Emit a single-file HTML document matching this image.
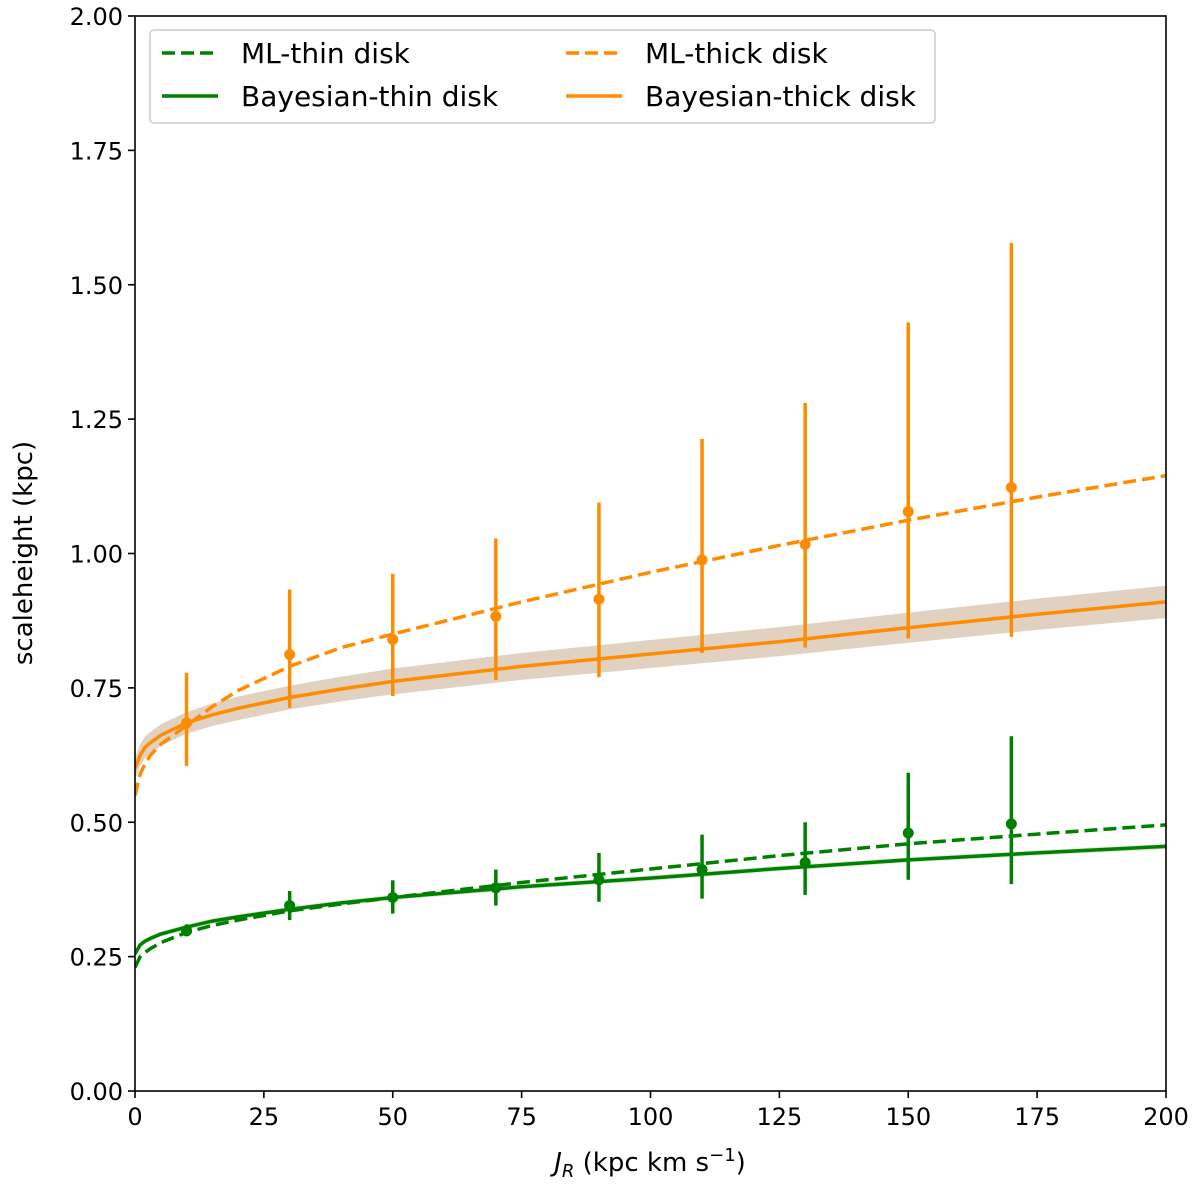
<!DOCTYPE html>
<html><head><meta charset="utf-8"><style>
body{margin:0;background:#fff}
svg text{font-family:"DejaVu Sans","Liberation Sans",sans-serif;fill:#000}
</style></head><body>
<svg id="chart" width="1200" height="1191" viewBox="0 0 1200 1191" xmlns="http://www.w3.org/2000/svg"></svg>
<script>
const curveX=[0,1,2,3,5,10,15,20,30,40,50,75,100,125,150,175,200];
const mlThick=[0.55,0.59,0.61,0.625,0.645,0.68,0.715,0.745,0.79,0.825,0.85,0.91,0.965,1.015,1.062,1.105,1.145];
const bayThick=[0.60,0.625,0.64,0.648,0.662,0.685,0.70,0.712,0.732,0.748,0.762,0.79,0.813,0.836,0.862,0.887,0.91];
const bayThickBand=[0.02,0.02,0.02,0.02,0.02,0.02,0.021,0.022,0.022,0.023,0.024,0.025,0.026,0.027,0.028,0.029,0.03];
const mlThin=[0.23,0.25,0.258,0.265,0.276,0.295,0.308,0.318,0.335,0.348,0.36,0.388,0.413,0.438,0.46,0.478,0.495];
const bayThin=[0.255,0.272,0.279,0.284,0.292,0.305,0.316,0.324,0.338,0.35,0.36,0.38,0.396,0.414,0.43,0.443,0.455];
const ptX=[10,30,50,70,90,110,130,150,170];
const thickY=[0.685,0.812,0.840,0.883,0.915,0.988,1.017,1.078,1.123];
const thickLo=[0.605,0.713,0.735,0.765,0.770,0.815,0.825,0.842,0.845];
const thickHi=[0.778,0.933,0.962,1.028,1.095,1.213,1.280,1.430,1.578];
const thinY=[0.298,0.345,0.360,0.378,0.393,0.412,0.425,0.480,0.497];
const thinLo=[0.288,0.318,0.330,0.345,0.352,0.358,0.365,0.393,0.385];
const thinHi=[0.310,0.372,0.392,0.412,0.443,0.477,0.500,0.592,0.660];
const xTicks=[0,25,50,75,100,125,150,175,200];
const yTicks=[0,0.25,0.5,0.75,1.0,1.25,1.5,1.75,2.0];
const yTickLabels=["0.00","0.25","0.50","0.75","1.00","1.25","1.50","1.75","2.00"];

const X0=135,X1=1166,Y0=1091,Y1=16;
const sx=v=>X0+(v-0)/200*(X1-X0);
const sy=v=>Y0-(v/2)*(Y0-Y1);
const svg=document.getElementById('chart');
const NS='http://www.w3.org/2000/svg';
function mk(tag,attrs,parent){const e=document.createElementNS(NS,tag);for(const k in attrs)e.setAttribute(k,attrs[k]);(parent||svg).appendChild(e);return e;}
const clip=mk('clipPath',{id:'clip'});mk('rect',{x:X0,y:Y1,width:X1-X0,height:Y0-Y1},clip);
const g=mk('g',{'clip-path':'url(#clip)'});


const pathOf=(xs,ys)=>xs.map((x,i)=>(i?'L':'M')+sx(x).toFixed(1)+','+sy(ys[i]).toFixed(1)).join('');
let bp=curveX.map((x,i)=>(i?'L':'M')+sx(x)+','+sy(bayThick[i]+bayThickBand[i])).join('');
for(let i=curveX.length-1;i>=0;i--)bp+='L'+sx(curveX[i])+','+sy(bayThick[i]-bayThickBand[i]);
const band=mk('path',{d:bp+'Z',fill:'#d8c6b2',opacity:0.8},g);


const thinBand=mk('path',{d:curveX.map((x,i)=>(i?'L':'M')+sx(x)+','+sy(bayThin[i]+0.005)).join('')+curveX.slice().reverse().map((x,j)=>{const i=curveX.length-1-j;return 'L'+sx(x)+','+sy(bayThin[i]-0.005)}).join('')+'Z',fill:'#cfe0c8',opacity:0.7},g);


function line(xs,ys,col,dash,name){const p=mk('path',{d:pathOf(xs,ys),fill:'none',stroke:col,'stroke-width':3.5,'stroke-dasharray':dash?'13,6':'none'},g);

}
line(curveX,bayThick,'#ff8c00',false,'bayesian-thick-line');
line(curveX,mlThick,'#ff8c00',true,'ml-thick-line');
line(curveX,bayThin,'#008000',false,'bayesian-thin-line');
line(curveX,mlThin,'#008000',true,'ml-thin-line');
function pts(ys,lo,hi,col,name){ptX.forEach((x,i)=>{
const e=mk('line',{x1:sx(x),x2:sx(x),y1:sy(lo[i]),y2:sy(hi[i]),stroke:col,'stroke-width':3.5},g);


const c=mk('circle',{cx:sx(x),cy:sy(ys[i]),r:5.5,fill:col},g);

});}
pts(thickY,thickLo,thickHi,'#ff8c00','thick');
pts(thinY,thinLo,thinHi,'#008000','thin');
const fr=mk('rect',{x:X0,y:Y1,width:X1-X0,height:Y0-Y1,fill:'none',stroke:'#000','stroke-width':1.6});


xTicks.forEach(t=>{mk('line',{x1:sx(t),x2:sx(t),y1:Y0,y2:Y0+7,stroke:'#000','stroke-width':1.6});
const tx=mk('text',{x:sx(t),y:Y0+34,'font-size':24,'text-anchor':'middle'});tx.textContent=t;

});
yTicks.forEach((t,i)=>{mk('line',{x1:X0-7,x2:X0,y1:sy(t),y2:sy(t),stroke:'#000','stroke-width':1.6});
const tx=mk('text',{x:X0-12,y:sy(t)+9,'font-size':24,'text-anchor':'end'});tx.textContent=yTickLabels[i];

});
</script>
<svg style="position:absolute;left:0;top:0" width="1200" height="1191">
<text x="650" y="1171" font-size="26" text-anchor="middle"><tspan font-style="italic">J</tspan><tspan font-style="italic" font-size="18" dy="6">R</tspan><tspan dy="-6"> (kpc km s</tspan><tspan font-size="18" dy="-10">−1</tspan><tspan dy="10">)</tspan></text>
<text transform="translate(32,553) rotate(-90)" font-size="26" text-anchor="middle">scaleheight (kpc)</text>
<g>
<rect x="150" y="30" width="785" height="93" rx="4" fill="#fff" fill-opacity="0.85" stroke="#ccc" stroke-width="1.5"/>
<line x1="162" x2="218" y1="53" y2="53" stroke="#008000" stroke-width="3.5" stroke-dasharray="13,6"/>
<text x="241" y="63" font-size="28">ML-thin disk</text>
<line x1="162" x2="218" y1="96" y2="96" stroke="#008000" stroke-width="3.5"/>
<text x="241" y="106" font-size="28">Bayesian-thin disk</text>
<line x1="566" x2="622" y1="53" y2="53" stroke="#ff8c00" stroke-width="3.5" stroke-dasharray="13,6"/>
<text x="645" y="63" font-size="28">ML-thick disk</text>
<line x1="566" x2="622" y1="96" y2="96" stroke="#ff8c00" stroke-width="3.5"/>
<text x="645" y="106" font-size="28">Bayesian-thick disk</text>
</g>
</svg>
</body></html>
